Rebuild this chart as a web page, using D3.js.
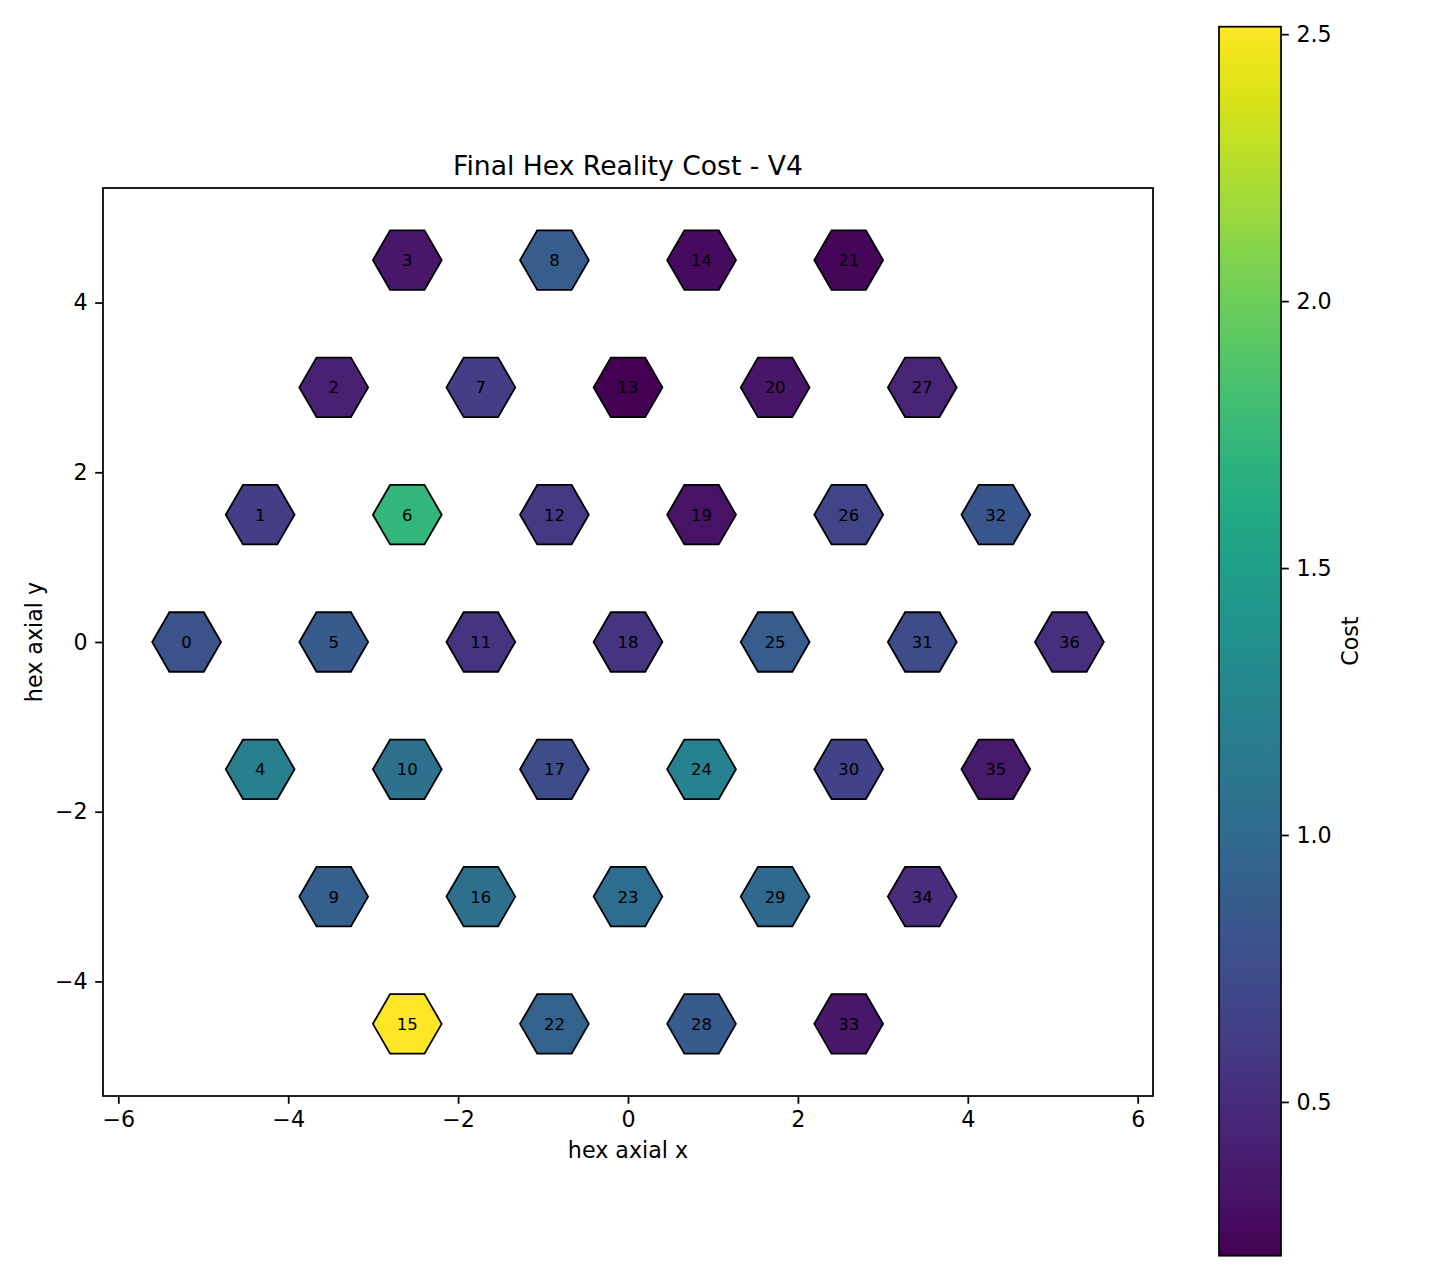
<!DOCTYPE html>
<html>
<head>
<meta charset="utf-8">
<script src="https://cdn.jsdelivr.net/npm/d3@7"></script>
<style>
  body { margin: 0; background: #fff; }
  svg { display: block; }
  text { font-family: "DejaVu Sans", sans-serif; fill: #000; }
</style>
</head>
<body>
<svg id="chart" width="1440" height="1280"></svg>
<script>
// ---- data ----
const hexIds = [0,1,2,3,4,5,6,7,8,9,10,11,12,13,14,15,16,17,18,19,20,21,22,23,24,25,26,27,28,29,30,31,32,33,34,35,36];
const hexQ = [-3,-3,-3,-3,-2,-2,-2,-2,-2,-1,-1,-1,-1,-1,-1,0,0,0,0,0,0,0,1,1,1,1,1,1,2,2,2,2,2,3,3,3,3];
const hexR = [0,1,2,3,-1,0,1,2,3,-2,-1,0,1,2,3,-3,-2,-1,0,1,2,3,-3,-2,-1,0,1,2,-3,-2,-1,0,1,-3,-2,-1,0];
const hexCost = [0.79,0.63,0.42,0.35,1.20,0.86,1.73,0.63,0.88,0.90,1.06,0.57,0.59,0.212,0.28,2.514,1.04,0.75,0.57,0.32,0.34,0.24,0.93,1.03,1.22,0.88,0.68,0.44,0.86,0.99,0.67,0.74,0.83,0.35,0.50,0.37,0.53];
const xTicks = [-6,-4,-2,0,2,4,6];
const yTicks = [-4,-2,0,2,4];
const cbarTicks = [0.5,1.0,1.5,2.0,2.5];
const titleText = "Final Hex Reality Cost - V4";
const xLabel = "hex axial x";
const yLabel = "hex axial y";
const cbarLabel = "Cost";

// ---- layout ----
const svg = d3.select("#chart");
const L = 103, R = 1153, T = 188, B = 1096;
const x = d3.scaleLinear().domain([-6.18, 6.18]).range([L, R]);
const y = d3.scaleLinear().domain([-5.35, 5.35]).range([B, T]);
const hexRadius = 0.405;
const SQ3 = Math.sqrt(3);

const [vmin, vmax] = d3.extent(hexCost);
const color = d3.scaleSequential(d3.interpolateViridis).domain([vmin, vmax]);

const tickFont = 22.2;
const tickLen = 7.8, tickPad = 7.6, lw = 1.75;

const hexes = hexIds.map((id, i) => ({
  id,
  cx: SQ3 * (hexQ[i] + hexR[i] / 2),
  cy: 1.5 * hexR[i],
  cost: hexCost[i]
}));

// hexagons
const gHex = svg.append("g");
hexes.forEach(h => {
  const pts = d3.range(6).map(k => {
    const a = k * Math.PI / 3;
    return [x(h.cx + hexRadius * Math.cos(a)), y(h.cy + hexRadius * Math.sin(a))];
  });
  gHex.append("polygon")
    .attr("points", pts.map(p => p.join(",")).join(" "))
    .attr("fill", color(h.cost))
    .attr("stroke", "#000")
    .attr("stroke-width", 1.8)
    .attr("stroke-linejoin", "miter");
  gHex.append("text")
    .attr("x", x(h.cx))
    .attr("y", y(h.cy))
    .attr("dy", "0.36em")
    .attr("text-anchor", "middle")
    .attr("font-size", 16.5)
    .text(h.id);
});

// axes
function styleAxis(g) {
  g.select(".domain").remove();
  g.selectAll(".tick line").attr("stroke", "#000").attr("stroke-width", lw);
  g.selectAll(".tick text").attr("font-size", tickFont).attr("font-family", "DejaVu Sans").attr("fill", "#000");
}
svg.append("g").attr("transform", `translate(0,${B})`)
  .call(d3.axisBottom(x).tickValues(xTicks).tickSize(tickLen).tickPadding(tickPad))
  .call(styleAxis);
svg.append("g").attr("transform", `translate(${L},0)`)
  .call(d3.axisLeft(y).tickValues(yTicks).tickSize(tickLen).tickPadding(tickPad))
  .call(styleAxis);

// spines
svg.append("rect").attr("x", L).attr("y", T).attr("width", R - L).attr("height", B - T)
  .attr("fill", "none").attr("stroke", "#000").attr("stroke-width", lw);

// title and labels
svg.append("text").attr("x", (L + R) / 2).attr("y", 175).attr("text-anchor", "middle")
  .attr("font-size", 26.6).text(titleText);
svg.append("text").attr("x", (L + R) / 2).attr("y", 1158).attr("text-anchor", "middle")
  .attr("font-size", tickFont).text(xLabel);
svg.append("text").attr("transform", `translate(42,${(T + B) / 2}) rotate(-90)`)
  .attr("text-anchor", "middle").attr("font-size", tickFont).text(yLabel);

// colorbar
const cbL = 1219, cbR = 1281, cbT = 26.7, cbB = 1255.7;
const cy = d3.scaleLinear().domain([vmin, vmax]).range([cbB, cbT]);
const defs = svg.append("defs");
const grad = defs.append("linearGradient").attr("id", "viridisGrad")
  .attr("x1", "0").attr("y1", "1").attr("x2", "0").attr("y2", "0");
d3.range(0, 1.0001, 0.02).forEach(t => {
  grad.append("stop").attr("offset", t).attr("stop-color", d3.interpolateViridis(t));
});
svg.append("rect").attr("x", cbL).attr("y", cbT).attr("width", cbR - cbL).attr("height", cbB - cbT)
  .attr("fill", "url(#viridisGrad)");
svg.append("g").attr("transform", `translate(${cbR},0)`)
  .call(d3.axisRight(cy).tickValues(cbarTicks).tickFormat(d3.format(".1f")).tickSize(tickLen).tickPadding(tickPad))
  .call(styleAxis);
svg.append("rect").attr("x", cbL).attr("y", cbT).attr("width", cbR - cbL).attr("height", cbB - cbT)
  .attr("fill", "none").attr("stroke", "#000").attr("stroke-width", lw);
svg.append("text").attr("transform", `translate(1358,${(cbT + cbB) / 2}) rotate(-90)`)
  .attr("text-anchor", "middle").attr("font-size", tickFont).text(cbarLabel);
</script>
</body>
</html>
